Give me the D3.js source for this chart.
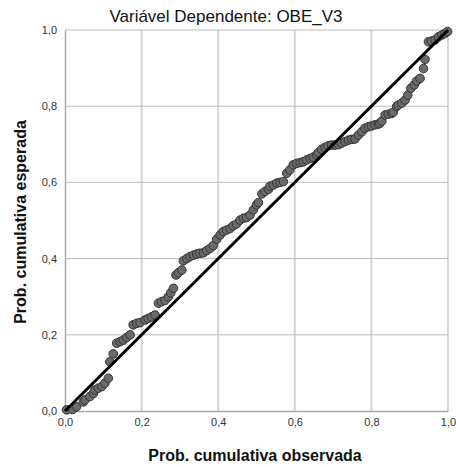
<!DOCTYPE html>
<html>
<head>
<meta charset="utf-8">
<script src="https://cdn.jsdelivr.net/npm/d3@7"></script>
<style>
  body { margin: 0; background: #fff; }
  text { font-family: "Liberation Sans", Arial, sans-serif; }
</style>
</head>
<body>
<div id="chart"></div>
<script>
const title = "Variável Dependente: OBE_V3"
const xLabel = "Prob. cumulativa observada"
const yLabel = "Prob. cumulativa esperada"
const ticks = [0, 0.2, 0.4, 0.6, 0.8, 1.0]

// probabilidade observada (x) e esperada (y)
const observed = [0.004, 0.02, 0.03, 0.048, 0.052, 0.065, 0.074, 0.078, 0.087, 0.096,
  0.104, 0.113, 0.117, 0.126, 0.135, 0.144, 0.152, 0.161, 0.17, 0.178,
  0.187, 0.196, 0.209, 0.217, 0.226, 0.235, 0.244, 0.252, 0.261, 0.27,
  0.276, 0.283, 0.29, 0.296, 0.305, 0.309, 0.318, 0.326, 0.335, 0.344,
  0.352, 0.361, 0.37, 0.379, 0.387, 0.396, 0.405, 0.413, 0.422, 0.431,
  0.439, 0.448, 0.457, 0.466, 0.474, 0.483, 0.492, 0.5, 0.505, 0.514,
  0.522, 0.531, 0.535, 0.544, 0.553, 0.561, 0.57, 0.579, 0.587, 0.596,
  0.605, 0.614, 0.622, 0.631, 0.64, 0.648, 0.657, 0.661, 0.67, 0.679,
  0.687, 0.696, 0.705, 0.714, 0.722, 0.731, 0.74, 0.749, 0.757, 0.766,
  0.775, 0.783, 0.792, 0.8, 0.809, 0.818, 0.822, 0.827, 0.836, 0.844,
  0.853, 0.857, 0.866, 0.87, 0.879, 0.888, 0.895, 0.903, 0.912, 0.918,
  0.927, 0.936, 0.94, 0.949, 0.957, 0.966, 0.975, 0.984, 0.992, 0.999]
const expected = [0.003, 0.004, 0.011, 0.024, 0.029, 0.038, 0.046, 0.055, 0.06, 0.064,
  0.073, 0.086, 0.129, 0.15, 0.178, 0.182, 0.186, 0.193, 0.2, 0.226,
  0.23, 0.232, 0.239, 0.243, 0.247, 0.252, 0.283, 0.287, 0.29, 0.3,
  0.31, 0.322, 0.357, 0.363, 0.37, 0.394, 0.4, 0.405, 0.409, 0.412,
  0.414, 0.415, 0.421, 0.427, 0.434, 0.451, 0.462, 0.471, 0.475, 0.479,
  0.486, 0.491, 0.501, 0.506, 0.508, 0.514, 0.528, 0.541, 0.547, 0.57,
  0.576, 0.582, 0.59, 0.593, 0.598, 0.6, 0.602, 0.624, 0.633, 0.646,
  0.65, 0.652, 0.654, 0.659, 0.663, 0.666, 0.672, 0.678, 0.687, 0.692,
  0.696, 0.698, 0.698, 0.699, 0.703, 0.707, 0.711, 0.713, 0.714, 0.724,
  0.733, 0.742, 0.746, 0.748, 0.751, 0.753, 0.755, 0.761, 0.777, 0.779,
  0.781, 0.784, 0.799, 0.803, 0.808, 0.816, 0.829, 0.847, 0.856, 0.866,
  0.873, 0.899, 0.923, 0.969, 0.971, 0.974, 0.982, 0.987, 0.991, 0.996]

const width = 456
const height = 467
const mLeft = 65, mRight = 448, mTop = 30, mBottom = 411

const svg = d3.select('#chart').append('svg')
  .attr('width', width)
  .attr('height', height)

const x = d3.scaleLinear().domain([0, 1]).range([mLeft, mRight])
const y = d3.scaleLinear().domain([0, 1]).range([mBottom, mTop])
const fmt = d => d.toFixed(1).replace('.', ',')

// grade
svg.append('g').selectAll('line')
  .data(ticks.slice(1))
  .join('line')
  .attr('x1', d => x(d)).attr('x2', d => x(d))
  .attr('y1', mTop).attr('y2', mBottom)
  .attr('stroke', '#d6d6d6')
  .attr('stroke-width', 2)
svg.append('g').selectAll('line')
  .data(ticks.slice(1))
  .join('line')
  .attr('x1', mLeft).attr('x2', mRight)
  .attr('y1', d => y(d)).attr('y2', d => y(d))
  .attr('stroke', '#bdbdbd')
  .attr('stroke-width', 1)

// eixos
const xAxis = g => g
  .attr('transform', `translate(0, ${mBottom})`)
  .call(d3.axisBottom(x).tickValues(ticks).tickFormat(fmt).tickSize(0).tickPadding(7))
  .call(g => g.select('.domain').attr('stroke', '#aaa').attr('stroke-width', 1.5))
  .call(g => g.selectAll('text').attr('font-size', 11).attr('fill', '#333')
    .attr('font-family', '"Liberation Sans", Arial, sans-serif'))
const yAxis = g => g
  .attr('transform', `translate(${mLeft}, 0)`)
  .call(d3.axisLeft(y).tickValues(ticks).tickFormat(fmt).tickSize(0).tickPadding(8))
  .call(g => g.select('.domain').attr('stroke', '#aaa').attr('stroke-width', 1.5))
  .call(g => g.selectAll('text').attr('font-size', 11).attr('fill', '#333')
    .attr('font-family', '"Liberation Sans", Arial, sans-serif'))
svg.append('g').call(xAxis)
svg.append('g').call(yAxis)

// pontos
const pts = observed.map((v, i) => [v, expected[i]])
svg.append('g').selectAll('circle')
  .data(pts)
  .join('circle')
  .attr('cx', d => x(d[0]))
  .attr('cy', d => y(d[1]))
  .attr('r', 4.3)
  .attr('fill', '#6a6a6a')
  .attr('stroke', '#333')
  .attr('stroke-width', 1)

// linha diagonal
svg.append('line')
  .attr('x1', x(0)).attr('y1', y(0))
  .attr('x2', x(1)).attr('y2', y(1))
  .attr('stroke', '#000')
  .attr('stroke-width', 3)

// títulos
svg.append('text')
  .attr('x', 226).attr('y', 22)
  .attr('text-anchor', 'middle')
  .attr('font-size', 17)
  .attr('fill', '#111')
  .text(title)
svg.append('text')
  .attr('x', 255).attr('y', 461)
  .attr('text-anchor', 'middle')
  .attr('font-size', 16)
  .attr('font-weight', 'bold')
  .attr('fill', '#111')
  .text(xLabel)
svg.append('text')
  .attr('transform', `translate(26, 222) rotate(-90)`)
  .attr('text-anchor', 'middle')
  .attr('font-size', 16)
  .attr('font-weight', 'bold')
  .attr('fill', '#111')
  .text(yLabel)
</script>
</body>
</html>
